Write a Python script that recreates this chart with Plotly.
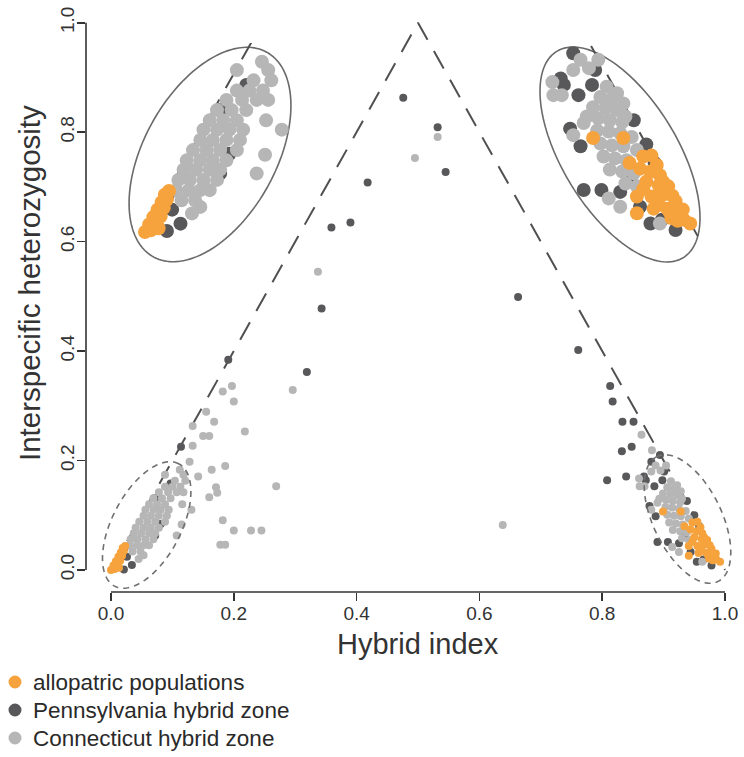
import numpy as np
import plotly.graph_objects as go

# ------------------------------------------------------------------
# DATA  (hybrid index, interspecific heterozygosity)
# ------------------------------------------------------------------
allo_x = [0.000, 0.006, 0.004, 0.011, 0.008, 0.015, 0.012, 0.018, 0.016, 0.021, 0.019, 0.023, 0.013,
          0.899, 0.928, 0.934, 0.947, 0.955, 0.944, 0.954, 0.963, 0.950, 0.962, 0.971, 0.941, 0.955,
          0.966, 0.978, 0.941, 0.957, 0.970, 0.981, 0.986, 0.992, 0.974, 0.960, 0.966, 0.975, 0.985,
          0.947, 0.962, 0.972, 0.980]
allo_y = [0.000, 0.002, 0.008, 0.010, 0.016, 0.017, 0.024, 0.026, 0.032, 0.035, 0.040, 0.044, 0.004,
          0.107, 0.107, 0.080, 0.087, 0.088, 0.074, 0.071, 0.067, 0.060, 0.056, 0.055, 0.044, 0.044,
          0.046, 0.039, 0.026, 0.031, 0.031, 0.026, 0.019, 0.015, 0.021, 0.078, 0.060, 0.045, 0.030,
          0.052, 0.035, 0.028, 0.018]

penn_x = [0.476, 0.532, 0.545, 0.418, 0.359, 0.390, 0.343, 0.319, 0.663, 0.761, 0.191, 0.114,
          0.813, 0.817, 0.833, 0.851, 0.832, 0.848, 0.808, 0.839, 0.894,
          0.097, 0.072, 0.081, 0.072, 0.034, 0.021, 0.026, 0.022,
          0.880, 0.901, 0.868, 0.871, 0.885, 0.898, 0.877, 0.887, 0.950, 0.890, 0.907, 0.925,
          0.935, 0.944, 0.954, 0.978, 0.965, 0.958, 0.938]
penn_y = [0.863, 0.809, 0.727, 0.708, 0.626, 0.635, 0.478, 0.362, 0.499, 0.402, 0.384, 0.225,
          0.336, 0.308, 0.271, 0.271, 0.217, 0.225, 0.164, 0.171, 0.210,
          0.158, 0.131, 0.084, 0.063, 0.009, 0.001, 0.024, 0.040,
          0.198, 0.180, 0.171, 0.164, 0.153, 0.164, 0.117, 0.098, 0.100, 0.051, 0.051, 0.049,
          0.065, 0.033, 0.015, 0.008, 0.019, 0.080, 0.126]

conn_x = [0.532, 0.495, 0.337, 0.296, 0.269, 0.638,
          0.197, 0.182, 0.200, 0.155, 0.168, 0.133, 0.218, 0.150, 0.160, 0.133, 0.128, 0.142,
          0.164, 0.186, 0.171, 0.173, 0.160, 0.182, 0.200, 0.228, 0.245, 0.178, 0.186,
          0.864, 0.881,
          0.112, 0.088, 0.118, 0.104, 0.121, 0.088, 0.100, 0.113, 0.078, 0.093, 0.107, 0.118,
          0.069, 0.083, 0.097, 0.062, 0.075, 0.088, 0.116, 0.056, 0.069, 0.081, 0.094, 0.131,
          0.053, 0.065, 0.078, 0.091, 0.046, 0.059, 0.072, 0.088, 0.040, 0.053, 0.065, 0.078,
          0.115, 0.037, 0.049, 0.062, 0.072, 0.107, 0.032, 0.043, 0.056, 0.069, 0.030, 0.042,
          0.053, 0.062, 0.035, 0.048, 0.053, 0.045,
          0.887, 0.904, 0.895, 0.880, 0.860, 0.861, 0.869, 0.880, 0.912, 0.922, 0.906, 0.917,
          0.928, 0.899, 0.911, 0.922, 0.930, 0.893, 0.904, 0.915, 0.927, 0.903, 0.914, 0.925,
          0.936, 0.906, 0.917, 0.928, 0.941, 0.909, 0.920, 0.931, 0.915, 0.927, 0.938, 0.930,
          0.941, 0.914, 0.925, 0.963, 0.890]
conn_y = [0.791, 0.753, 0.545, 0.329, 0.153, 0.082,
          0.336, 0.326, 0.308, 0.289, 0.271, 0.263, 0.253, 0.245, 0.245, 0.227, 0.198, 0.171,
          0.183, 0.190, 0.151, 0.141, 0.133, 0.091, 0.072, 0.072, 0.072, 0.046, 0.046,
          0.247, 0.219,
          0.183, 0.174, 0.174, 0.163, 0.163, 0.152, 0.152, 0.152, 0.142, 0.142, 0.142, 0.142,
          0.131, 0.131, 0.131, 0.120, 0.120, 0.120, 0.120, 0.110, 0.110, 0.110, 0.110, 0.110,
          0.099, 0.099, 0.099, 0.099, 0.088, 0.088, 0.088, 0.088, 0.077, 0.077, 0.077, 0.077,
          0.083, 0.067, 0.067, 0.067, 0.067, 0.063, 0.056, 0.056, 0.056, 0.056, 0.045, 0.045,
          0.045, 0.045, 0.034, 0.034, 0.027, 0.020,
          0.191, 0.191, 0.182, 0.180, 0.167, 0.153, 0.153, 0.110, 0.162, 0.155, 0.151, 0.149,
          0.144, 0.140, 0.139, 0.137, 0.130, 0.130, 0.128, 0.126, 0.124, 0.115, 0.114, 0.112,
          0.108, 0.101, 0.099, 0.098, 0.094, 0.087, 0.085, 0.083, 0.073, 0.071, 0.069, 0.058,
          0.055, 0.042, 0.033, 0.015, 0.123]

series = [
    ("Pennsylvania hybrid zone", penn_x, penn_y, "#58585A"),
    ("Connecticut hybrid zone", conn_x, conn_y, "#B6B6B6"),
    ("allopatric populations", allo_x, allo_y, "#F6A33E"),
]
legend_order = ["allopatric populations", "Pennsylvania hybrid zone", "Connecticut hybrid zone"]

tick_vals = [0.0, 0.2, 0.4, 0.6, 0.8, 1.0]
tick_text = ["0.0", "0.2", "0.4", "0.6", "0.8", "1.0"]
tri_x = [0.0, 0.5, 1.0]
tri_y = [0.0, 1.0, 0.0]

# ------------------------------------------------------------------
# GEOMETRY (pixels)
# ------------------------------------------------------------------
FIG_W, FIG_H = 744, 757
L_PX, R_PX, T_PX, B_PX = 86, 744, 1, 592
X0_PX, X_PER = 111.0, 614.0
Y0_PX, Y_PER = 570.0, 547.3
x_range = [(L_PX - X0_PX) / X_PER, (R_PX - X0_PX) / X_PER]
y_range = [(Y0_PX - B_PX) / Y_PER, (Y0_PX - T_PX) / Y_PER]


def paper_x(px):
    return (px - L_PX) / (R_PX - L_PX)


def paper_y(py):
    return (B_PX - py) / (B_PX - T_PX)


def main_x(px):
    return (px - X0_PX) / X_PER


def main_y(py):
    return (Y0_PX - py) / Y_PER


def ellipse_px(ell, n=160):
    cx, cy, a, b, deg = ell
    t = np.linspace(0, 2 * np.pi, n)
    th = np.radians(deg)
    u, v = a * np.cos(t), b * np.sin(t)
    return cx + u * np.cos(th) - v * np.sin(th), cy - (u * np.sin(th) + v * np.cos(th))


def inside(px, py, ell):
    cx, cy, a, b, deg = ell
    th = np.radians(deg)
    dx, dy = px - cx, cy - py
    u = dx * np.cos(th) + dy * np.sin(th)
    v = -dx * np.sin(th) + dy * np.cos(th)
    return (u / a) ** 2 + (v / b) ** 2 <= 1.0


def path_of(xs, ys):
    pts = [f"{x:.5f},{y:.5f}" for x, y in zip(xs, ys)]
    return "M " + " L ".join(pts) + " Z"


MAG = 1.7
insets = [
    dict(anchor=(0.0, 0.0), anchor_px=(145.0, 232.0), box=(120, 305, 43, 272),
         ell=(210.0, 154.5, 117.0, 66.0, 61.0), zoom_ell=(146.7, 525.0, 69.1, 34.4, 62.4)),
    dict(anchor=(1.0, 0.0), anchor_px=(698.5, 237.5), box=(530, 715, 43, 272),
         ell=(620.0, 154.5, 121.0, 57.5, 121.5), zoom_ell=(687.5, 519.0, 69.5, 34.2, 116.0)),
]

fig = go.Figure()

# main panel
fig.add_trace(go.Scatter(x=tri_x, y=tri_y, mode="lines", hoverinfo="skip", showlegend=False,
                         line=dict(color="#505050", width=2, dash="20px,13px")))
for name, xs, ys, col in series:
    fig.add_trace(go.Scatter(x=xs, y=ys, mode="markers", name=name, showlegend=False,
                             marker=dict(size=8, color=col, line=dict(width=0))))

shapes = []
annotations = []

# inset panels (magnified views of the corners)
for i, ins in enumerate(insets):
    k = i + 2
    xa, ya = ins["anchor"]
    apx, apy = ins["anchor_px"]
    sx, sy = X_PER * MAG, Y_PER * MAG
    bl, br, bt, bb = ins["box"]
    xr = [xa + (bl - apx) / sx, xa + (br - apx) / sx]
    yr = [ya + (apy - bb) / sy, ya + (apy - bt) / sy]
    fig.update_layout(**{
        f"xaxis{k}": dict(domain=[paper_x(bl), paper_x(br)], range=xr, visible=False,
                          anchor=f"y{k}", fixedrange=True, automargin=False),
        f"yaxis{k}": dict(domain=[paper_y(bb), paper_y(bt)], range=yr, visible=False,
                          anchor=f"x{k}", fixedrange=True, automargin=False),
    })
    fig.add_trace(go.Scatter(x=tri_x, y=tri_y, mode="lines", hoverinfo="skip", showlegend=False,
                             xaxis=f"x{k}", yaxis=f"y{k}",
                             line=dict(color="#505050", width=2, dash="20px,13px")))
    for name, xs, ys, col in series:
        xs_a, ys_a = np.array(xs), np.array(ys)
        ipx = apx + (xs_a - xa) * sx
        ipy = apy - (ys_a - ya) * sy
        m = inside(ipx, ipy, ins["ell"])
        fig.add_trace(go.Scatter(x=xs_a[m], y=ys_a[m], mode="markers", name=name,
                                 showlegend=False, xaxis=f"x{k}", yaxis=f"y{k}",
                                 marker=dict(size=14, color=col, line=dict(width=0))))
    # white, outlined ellipse behind the inset points
    epx, epy = ellipse_px(ins["ell"])
    shapes.append(dict(type="path", xref=f"x{k}", yref=f"y{k}", layer="below",
                       path=path_of(xa + (epx - apx) / sx, ya + (apy - epy) / sy),
                       fillcolor="white", line=dict(color="#6A6A6A", width=1.6)))
    # dashed ellipse marking the magnified corner
    dpx, dpy = ellipse_px(ins["zoom_ell"])
    shapes.append(dict(type="path", xref="x", yref="y", layer="above",
                       path=path_of(main_x(dpx), main_y(dpy)),
                       line=dict(color="#707070", width=1.6, dash="6px,5px")))

# R-style axis lines spanning 0..1 only
shapes.append(dict(type="line", xref="x", yref="paper", x0=0, x1=1, y0=0, y1=0,
                   line=dict(color="#333333", width=1.6)))
shapes.append(dict(type="line", xref="paper", yref="y", x0=0, x1=0, y0=0, y1=1,
                   line=dict(color="#333333", width=1.6)))

# axis titles
annotations.append(dict(text="Hybrid index", xref="paper", yref="paper",
                        x=paper_x(418), y=paper_y(644), xanchor="center", yanchor="middle",
                        showarrow=False, font=dict(size=29, color="#333333")))
annotations.append(dict(text="Interspecific heterozygosity", xref="paper", yref="paper",
                        x=paper_x(29), y=paper_y(283), xanchor="center", yanchor="middle",
                        textangle=-90, showarrow=False, font=dict(size=29.5, color="#333333")))

# legend (bottom-left)
col_of = {name: col for name, _, _, col in series}
for j, name in enumerate(legend_order):
    cy = 682 + 28 * j
    shapes.append(dict(type="circle", xref="paper", yref="paper", xsizemode="pixel",
                       ysizemode="pixel", xanchor=paper_x(15), yanchor=paper_y(cy),
                       x0=-6.5, x1=6.5, y0=-6.5, y1=6.5,
                       fillcolor=col_of[name], line=dict(width=0)))
    annotations.append(dict(text=name, xref="paper", yref="paper", x=paper_x(31),
                            y=paper_y(cy), xanchor="left", yanchor="middle", showarrow=False,
                            font=dict(size=22.5, color="#2A2A2A")))

axis_common = dict(tickmode="array", tickvals=tick_vals, ticktext=tick_text, ticks="outside",
                   ticklen=8, tickwidth=1.6, tickcolor="#333333", showline=False,
                   showgrid=False, zeroline=False, fixedrange=True, automargin=False,
                   ticklabeloverflow="allow",
                   tickfont=dict(size=19, color="#333333"))

fig.update_layout(
    width=FIG_W, height=FIG_H, autosize=False,
    margin=dict(l=L_PX, r=FIG_W - R_PX, t=T_PX, b=FIG_H - B_PX, pad=0, autoexpand=False),
    paper_bgcolor="white", plot_bgcolor="rgba(0,0,0,0)",
    font=dict(family="Liberation Sans, Arial, Helvetica, sans-serif", color="#333333"),
    showlegend=False,
    xaxis=dict(range=x_range, ticklabelstandoff=-4, **axis_common),
    yaxis=dict(range=y_range, tickangle=-90, ticklabelstandoff=-5, **axis_common),
    shapes=shapes, annotations=annotations,
)

fig.write_html("out.html",
               config={"displayModeBar": False, "staticPlot": True},
               post_script="document.body.style.margin='0';"
                           "document.body.style.overflow='hidden';")
